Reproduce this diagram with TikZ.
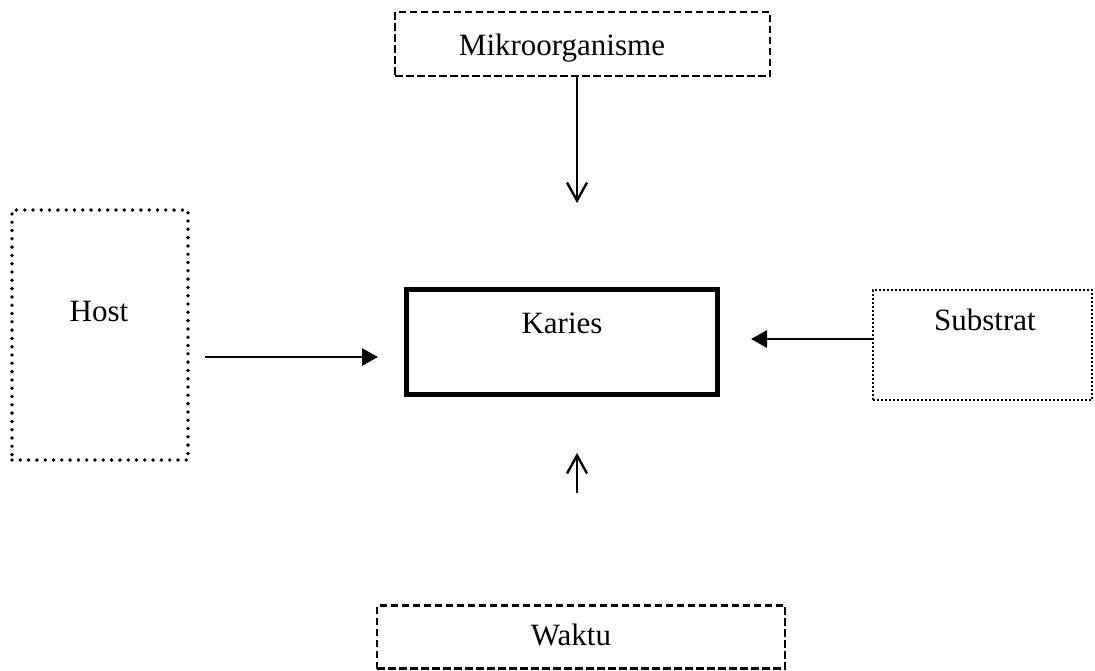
\documentclass[tikz,border=0pt]{standalone}
\usepackage{fontspec}
\setmainfont{Liberation Serif}
\usetikzlibrary{arrows.meta}
\begin{document}
\begin{tikzpicture}[x=1pt,y=-1pt,
  box/.style={inner sep=0pt, outer sep=0pt},
  dashbox/.style={box, draw, line width=2.6pt, dash pattern=on 7.5pt off 3.5pt},
  bigdots/.style={box, draw, line width=3.8pt, line cap=round, dash pattern=on 0pt off 8.3pt},
  smalldots/.style={box, draw, line width=2.2pt, dash pattern=on 2pt off 2pt},
  solidbox/.style={box, draw, line width=5pt},
  lbl/.style={anchor=base, inner sep=0pt, font=\fontsize{31}{37}\selectfont},
  barb/.style={line width=2.4pt, -{Straight Barb[length=18pt,width=20pt,line width=2.4pt]}},
  tri/.style={line width=2.8pt, -{Triangle[length=16pt,width=17pt]}}
]
\useasboundingbox (0,0) rectangle (1095,670);
% boxes
\node[dashbox, minimum width=375pt, minimum height=64pt] (mik) at (582.5,44) {};
\node[bigdots, minimum width=176pt, minimum height=250pt] (host) at (100,335) {};
\node[solidbox, minimum width=311pt, minimum height=105pt] (kar) at (562,342) {};
\node[smalldots, minimum width=219pt, minimum height=110pt] (sub) at (982.5,345) {};
\node[dashbox, minimum width=408pt, minimum height=63pt] (wak) at (581,637) {};
% labels
\node[lbl] (tmik) at (562,55) {Mikroorganisme};
\node[lbl] (thost) at (99,321) {Host};
\node[lbl] (tkar) at (562,333) {Karies};
\node[lbl] (tsub) at (985,330) {Substrat};
\node[lbl] (twak) at (571,645) {Waktu};
% connector ends
\coordinate (mtip) at (577,203);
\coordinate (wstart) at (577,493);
\coordinate (wtip) at (577,453);
\coordinate (hstart) at (205,357);
\coordinate (htip) at (378,357);
\coordinate (stip) at (751,339);
% connectors
\draw[barb] (mik.south -| mtip) -- (mtip);
\draw[barb] (wstart) -- (wtip);
\draw[tri] (hstart) -- (htip);
\draw[tri] (sub.west |- stip) -- (stip);
\end{tikzpicture}
\end{document}
